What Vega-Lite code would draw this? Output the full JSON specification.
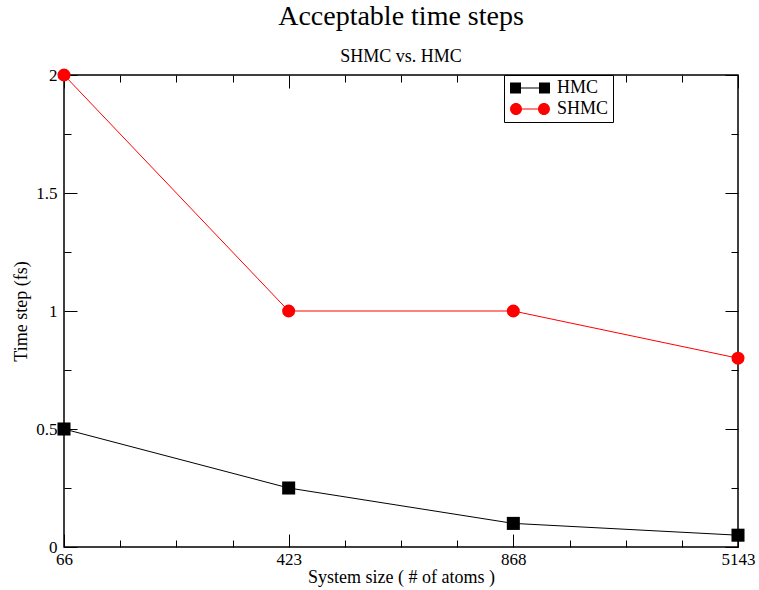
{
  "$schema": "https://vega.github.io/schema/vega-lite/v6.json",
  "width": 674,
  "height": 472,
  "autosize": {"type": "none"},
  "padding": {"left": 64, "top": 75, "right": 21, "bottom": 43},
  "background": "white",
  "config": {
    "font": "Liberation Serif",
    "view": {"stroke": "black", "strokeWidth": 1.5},
    "axis": {"grid": false, "domain": false, "tickColor": "black", "tickWidth": 1, "labelColor": "black", "titleColor": "black", "labelFont": "Liberation Serif", "titleFont": "Liberation Serif", "labelFontSize": 17, "titleFontSize": 18, "titleFontWeight": "normal", "labelFlush": false},
    "legend": {"orient": "none", "legendX": 440, "legendY": 0, "title": null,
      "fillColor": "white", "strokeColor": "black", "padding": 4,
      "labelFontSize": 18, "labelFont": "Liberation Serif", "labelColor": "black",
      "symbolSize": 144, "symbolOffset": 13, "labelOffset": 18, "rowPadding": 3, "symbolStrokeWidth": 0, "symbolOpacity": 1}
  },
  "title": {
    "text": "Acceptable time steps",
    "subtitle": "SHMC vs. HMC",
    "fontSize": 28,
    "subtitleFontSize": 18,
    "fontWeight": "normal",
    "font": "Liberation Serif",
    "subtitleFont": "Liberation Serif",
    "color": "black",
    "subtitleColor": "black",
    "anchor": "middle",
    "offset": 0,
    "subtitlePadding": 17
  },
  "data": {
    "values": [
      {"pos": 0, "atoms": "66", "series": "HMC", "dt": 0.5},
      {"pos": 1, "atoms": "423", "series": "HMC", "dt": 0.25},
      {"pos": 2, "atoms": "868", "series": "HMC", "dt": 0.1},
      {"pos": 3, "atoms": "5143", "series": "HMC", "dt": 0.05},
      {"pos": 0, "atoms": "66", "series": "SHMC", "dt": 2},
      {"pos": 1, "atoms": "423", "series": "SHMC", "dt": 1},
      {"pos": 2, "atoms": "868", "series": "SHMC", "dt": 1},
      {"pos": 3, "atoms": "5143", "series": "SHMC", "dt": 0.8}
    ]
  },
  "resolve": {"axis": {"x": "independent", "y": "independent"}, "scale": {"shape": "independent", "color": "independent"}},
  "layer": [
    {
      "mark": {"type": "line", "strokeWidth": 1, "clip": false},
      "encoding": {
        "x": {"field": "pos", "type": "quantitative", "scale": {"domain": [0, 3], "nice": false, "zero": false},
          "axis": {"orient": "bottom", "values": [0, 1, 2, 3], "ticks": false, "labelPadding": 4,
            "labelExpr": "['66','423','868','5143'][datum.value]", "title": "System size ( # of atoms )", "titlePadding": 1}},
        "y": {"field": "dt", "type": "quantitative", "scale": {"domain": [0, 2], "nice": false},
          "axis": {"orient": "left", "values": [0, 0.5, 1, 1.5, 2], "ticks": false, "labelPadding": 7, "format": "~g", "title": "Time step (fs)", "titlePadding": 5}},
        "color": {"field": "series", "type": "nominal", "scale": {"domain": ["HMC", "SHMC"], "range": ["black", "red"]}, "legend": null},
        "detail": {"field": "series"}
      }
    },
    {
      "mark": {"type": "point", "filled": true, "opacity": 1, "size": 170, "strokeWidth": 0, "clip": false},
      "encoding": {
        "x": {"field": "pos", "type": "quantitative",
          "axis": {"orient": "bottom", "values": [0, 1, 2, 3], "tickSize": -13, "labels": false, "title": null}},
        "y": {"field": "dt", "type": "quantitative",
          "axis": {"orient": "left", "values": [0, 0.5, 1, 1.5, 2], "tickSize": -13, "labels": false, "title": null}},
        "color": {"field": "series", "type": "nominal", "scale": {"domain": ["HMC", "SHMC"], "range": ["black", "red"]}, "legend": null},
        "shape": {"field": "series", "type": "nominal", "scale": {"domain": ["HMC", "SHMC"], "range": ["square", "circle"]}, "legend": null}
      }
    },
    {
      "mark": {"type": "point", "opacity": 0},
      "encoding": {
        "x": {"field": "pos", "type": "quantitative",
          "axis": {"orient": "bottom", "values": [0.25, 0.5, 0.75, 1.25, 1.5, 1.75, 2.25, 2.5, 2.75], "tickSize": -7, "labels": false, "title": null}},
        "y": {"field": "dt", "type": "quantitative",
          "axis": {"orient": "left", "values": [0.25, 0.75, 1.25, 1.75], "tickSize": -7, "labels": false, "title": null}}
      }
    },
    {
      "mark": {"type": "point", "opacity": 0, "filled": true},
      "encoding": {
        "x": {"field": "pos", "type": "quantitative",
          "axis": {"orient": "top", "values": [0, 1, 2, 3], "tickSize": -13, "labels": false, "title": null}},
        "y": {"field": "dt", "type": "quantitative",
          "axis": {"orient": "right", "values": [0, 0.5, 1, 1.5, 2], "tickSize": -13, "labels": false, "title": null}},
        "color": {"field": "series", "type": "nominal", "scale": {"domain": ["HMC", "SHMC"], "range": ["black", "red"]}},
        "shape": {"field": "series", "type": "nominal", "scale": {"domain": ["HMC", "SHMC"], "range": [
          "M-3.33,-0.9 h1.83 v1.8 h-1.83 Z M1.5,-0.9 h1.83 v1.8 h-1.83 Z M-1.5,-0.08 h3 v0.16 h-3 Z",
          "M-3.33,0 a1,1 0 1,0 2,0 a1,1 0 1,0 -2,0 Z M1.33,0 a1,1 0 1,0 2,0 a1,1 0 1,0 -2,0 Z M-1.33,-0.08 h2.66 v0.16 h-2.66 Z"]}}
      }
    },
    {
      "mark": {"type": "point", "opacity": 0},
      "encoding": {
        "x": {"field": "pos", "type": "quantitative",
          "axis": {"orient": "top", "values": [0.25, 0.5, 0.75, 1.25, 1.5, 1.75, 2.25, 2.5, 2.75], "tickSize": -7, "labels": false, "title": null}},
        "y": {"field": "dt", "type": "quantitative",
          "axis": {"orient": "right", "values": [0.25, 0.75, 1.25, 1.75], "tickSize": -7, "labels": false, "title": null}}
      }
    }
  ]
}
